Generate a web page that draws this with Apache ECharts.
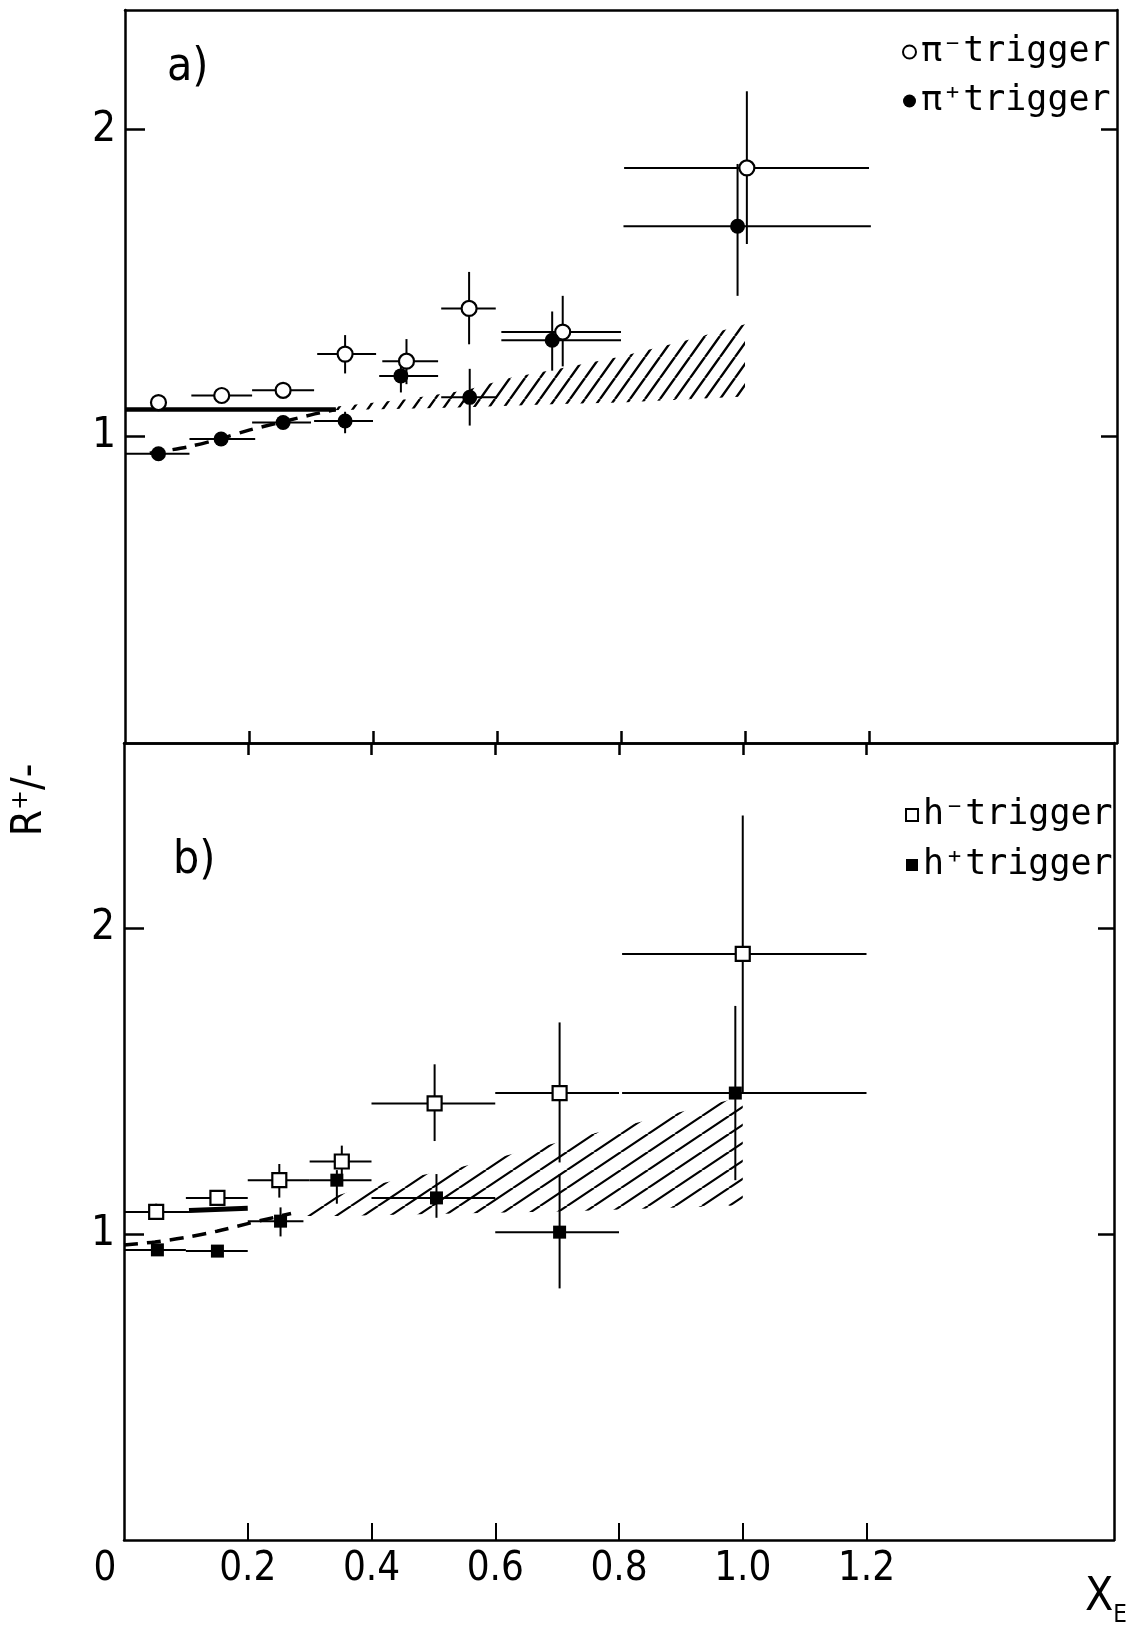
<!DOCTYPE html>
<html><head><meta charset="utf-8">
<script src="https://cdn.jsdelivr.net/npm/echarts@6/dist/echarts.min.js"></script>
<style>html,body{margin:0;padding:0;background:#fff}#c{width:1128px;height:1628px}</style>
</head><body><div id="c"></div>
<script>
// ---------- axis ticks ----------
const xTickValues = [0, 0.2, 0.4, 0.6, 0.8, 1.0, 1.2];
const xTickLabels = ['0', '0.2', '0.4', '0.6', '0.8', '1.0', '1.2'];
const yTickValues = [1, 2];
const yTickLabels = ['1', '2'];

// ---------- panel a) pion triggers ----------
const piMinusX   = [0.054, 0.156, 0.255, 0.355, 0.454, 0.555, 0.706, 1.003];
const piMinusY   = [1.110, 1.133, 1.150, 1.268, 1.245, 1.417, 1.340, 1.875];
const piMinusXLo = [0.054, 0.107, 0.205, 0.310, 0.415, 0.510, 0.607, 0.805];
const piMinusXHi = [0.054, 0.205, 0.305, 0.405, 0.505, 0.598, 0.800, 1.200];
const piMinusYLo = [1.110, 1.133, 1.130, 1.205, 1.170, 1.300, 1.228, 1.627];
const piMinusYHi = [1.110, 1.133, 1.170, 1.330, 1.317, 1.536, 1.458, 2.125];

const piPlusX    = [0.054, 0.155, 0.255, 0.355, 0.445, 0.556, 0.689, 0.988];
const piPlusY    = [0.943, 0.991, 1.045, 1.050, 1.197, 1.127, 1.313, 1.685];
const piPlusXLo  = [0.000, 0.104, 0.205, 0.305, 0.410, 0.510, 0.607, 0.804];
const piPlusXHi  = [0.104, 0.210, 0.300, 0.400, 0.505, 0.600, 0.800, 1.203];
const piPlusYLo  = [0.943, 0.991, 1.045, 1.010, 1.143, 1.035, 1.214, 1.458];
const piPlusYHi  = [0.943, 0.991, 1.045, 1.080, 1.245, 1.220, 1.407, 1.888];

const solidAX = [0.0, 0.34];
const solidAY = [1.087, 1.087];
const dashAX  = [0.04, 0.10, 0.15, 0.20, 0.25, 0.30, 0.34];
const dashAY  = [0.945, 0.965, 0.990, 1.020, 1.045, 1.070, 1.087];
const bandAX  = [0.33, 0.45, 0.55, 0.62, 0.70, 0.80, 0.90, 1.00];
const bandALo = [1.085, 1.090, 1.095, 1.100, 1.105, 1.110, 1.120, 1.130];
const bandAHi = [1.095, 1.120, 1.150, 1.190, 1.220, 1.260, 1.310, 1.365];

// ---------- panel b) hadron triggers ----------
const hMinusX   = [0.052, 0.151, 0.251, 0.352, 0.502, 0.704, 1.000];
const hMinusY   = [1.073, 1.119, 1.177, 1.238, 1.428, 1.462, 1.917];
const hMinusXLo = [0.000, 0.100, 0.200, 0.300, 0.400, 0.600, 0.805];
const hMinusXHi = [0.105, 0.200, 0.300, 0.400, 0.600, 0.800, 1.200];
const hMinusYLo = [1.050, 1.100, 1.120, 1.197, 1.305, 1.235, 1.460];
const hMinusYHi = [1.100, 1.140, 1.230, 1.290, 1.556, 1.693, 2.370];

const hPlusX    = [0.054, 0.151, 0.253, 0.344, 0.505, 0.704, 0.988];
const hPlusY    = [0.949, 0.945, 1.043, 1.177, 1.119, 1.007, 1.462];
const hPlusXLo  = [0.000, 0.100, 0.200, 0.300, 0.400, 0.600, 0.805];
const hPlusXHi  = [0.100, 0.200, 0.290, 0.400, 0.600, 0.800, 1.200];
const hPlusYLo  = [0.935, 0.930, 0.993, 1.100, 1.054, 0.823, 1.177];
const hPlusYHi  = [0.965, 0.960, 1.088, 1.210, 1.197, 1.197, 1.747];

const solidBX = [0.105, 0.20];
const solidBY = [1.078, 1.085];
const dashBX  = [0.00, 0.05, 0.10, 0.15, 0.20, 0.27];
const dashBY  = [0.965, 0.975, 0.990, 1.010, 1.035, 1.068];
const bandBX  = [0.27, 0.35, 0.40, 0.535, 0.72, 0.86, 1.00];
const bandBLo = [1.060, 1.060, 1.062, 1.068, 1.075, 1.085, 1.095];
const bandBHi = [1.070, 1.130, 1.160, 1.215, 1.310, 1.380, 1.450];

// ---------- helpers ----------
const NARROW = '"Liberation Sans Narrow", "DejaVu Sans Condensed", sans-serif';
const MONO = '"DejaVu Sans Mono", monospace';
const zip = (...arrs) => arrs[0].map((_, i) => arrs.map(a => a[i]));

function hatch(w, h, lw) {
  const c = document.createElement('canvas');
  c.width = w; c.height = h;
  const g = c.getContext('2d');
  g.strokeStyle = '#000'; g.lineWidth = lw; g.lineCap = 'butt';
  g.beginPath();
  for (const dx of [-w, 0, w]) { g.moveTo(dx, h); g.lineTo(dx + w, 0); }
  g.stroke();
  return c;
}
const patA = { image: hatch(15, 21, 2.4), repeat: 'repeat' };
const patB = { image: hatch(27, 18, 2.2), repeat: 'repeat' };

function errRender(params, api) {
  const x = api.value(0), y = api.value(1);
  const xlo = api.value(2), xhi = api.value(3), ylo = api.value(4), yhi = api.value(5);
  const ch = [];
  const st = { stroke: '#000', lineWidth: 2 };
  if (xhi > xlo) {
    const a = api.coord([xlo, y]), b = api.coord([xhi, y]);
    ch.push({ type: 'line', shape: { x1: a[0], y1: a[1], x2: b[0], y2: b[1] }, style: st });
  }
  if (yhi > ylo) {
    const a = api.coord([x, ylo]), b = api.coord([x, yhi]);
    ch.push({ type: 'line', shape: { x1: a[0], y1: a[1], x2: b[0], y2: b[1] }, style: st });
  }
  return { type: 'group', children: ch };
}
function bandRender(pattern) {
  return function (params, api) {
    if (params.dataIndexInside !== 0) return null;
    const n = params.dataInsideLength;
    const top = [], bot = [];
    for (let i = 0; i < n; i++) {
      const x = api.value(0, i);
      top.push(api.coord([x, api.value(2, i)]));
      bot.push(api.coord([x, api.value(1, i)]));
    }
    return { type: 'polygon', shape: { points: top.concat(bot.reverse()) }, style: { fill: pattern, stroke: null } };
  };
}

const xLabelFmt = v => {
  const i = xTickValues.findIndex(t => Math.abs(t - v) < 1e-9);
  const s = i >= 0 ? xTickLabels[i] : '';
  return i === 0 ? '{z|' + s + '}' : s;
};
const yLabelFmt = v => {
  const i = yTickValues.findIndex(t => Math.abs(t - v) < 1e-9);
  return i >= 0 ? yTickLabels[i] : '';
};
const axLine = { show: true, onZero: false, lineStyle: { color: '#000', width: 2.5 } };
const tickVals = xTickValues.slice(1);

function xAx(grid, pos, opts) {
  return Object.assign({
    type: 'value', gridIndex: grid, position: pos, min: 0, max: 1.6,
    axisLine: axLine, splitLine: { show: false },
    axisTick: { show: false }, axisLabel: { show: false }
  }, opts);
}
function yAx(grid, pos, max, opts) {
  return Object.assign({
    type: 'value', gridIndex: grid, position: pos, min: 0, max: max,
    axisLine: axLine, splitLine: { show: false },
    axisTick: { show: true, inside: true, length: pos === 'left' ? 20 : 16, customValues: yTickValues, lineStyle: { color: '#000', width: 2.5 } },
    axisLabel: { show: false }
  }, opts);
}

const legendText = { fontFamily: MONO, fontSize: 35, lineHeight: 42, color: '#000' };

const option = {
  backgroundColor: '#fff',
  animation: false,
  title: [
    { text: 'a)', left: 162, top: 40, textStyle: { fontFamily: NARROW, fontSize: 46, fontWeight: 'normal', color: '#000' } },
    { text: 'b)', left: 168, top: 833, textStyle: { fontFamily: NARROW, fontSize: 46, fontWeight: 'normal', color: '#000' } }
  ],
  grid: [
    { left: 125, top: 10, width: 992, height: 733 },
    { left: 124, top: 743, width: 993, height: 797 }
  ],
  xAxis: [
    xAx(0, 'bottom', { axisTick: { show: true, inside: true, length: 12, customValues: tickVals, lineStyle: { color: '#000', width: 2.5 } } }),
    xAx(0, 'top'),
    xAx(1, 'bottom', {
      axisTick: { show: true, inside: true, length: 17, customValues: tickVals, lineStyle: { color: '#000', width: 2 } },
      axisLabel: { show: true, customValues: xTickValues, formatter: xLabelFmt, margin: 10, color: '#000', fontFamily: NARROW, fontSize: 40,
        rich: { z: { fontFamily: NARROW, fontSize: 40, color: '#000', padding: [0, 38, 0, 0] } } },
      name: '{x|X}{e|E}', nameLocation: 'end', nameGap: -8,
      nameTextStyle: { align: 'center', verticalAlign: 'top', padding: [28, 0, 0, 0],
        rich: { x: { fontFamily: NARROW, fontSize: 46, lineHeight: 60, color: '#000' },
                e: { fontFamily: NARROW, fontSize: 24, lineHeight: 60, verticalAlign: 'bottom', color: '#000' } } }
    }),
    xAx(1, 'top', { axisTick: { show: true, inside: true, length: 12, customValues: tickVals, lineStyle: { color: '#000', width: 2.5 } } })
  ],
  yAxis: [
    yAx(0, 'left', 2.39, { axisLabel: { show: true, customValues: yTickValues, formatter: yLabelFmt, margin: 9, color: '#000', fontFamily: NARROW, fontSize: 42 } }),
    yAx(0, 'right', 2.39),
    yAx(1, 'left', 2.607, { axisLabel: { show: true, customValues: yTickValues, formatter: yLabelFmt, margin: 9, color: '#000', fontFamily: NARROW, fontSize: 42 } }),
    yAx(1, 'right', 2.607)
  ],
  legend: [
    { orient: 'vertical', left: 897, top: 26, itemWidth: 13, itemHeight: 13, itemGap: 7, selectedMode: false, textStyle: legendText,
      data: [
        { name: 'π⁻trigger', icon: 'circle', itemStyle: { color: '#fff', borderColor: '#000', borderWidth: 2 } },
        { name: 'π⁺trigger', icon: 'circle', itemStyle: { color: '#000', borderWidth: 0 } }
      ] },
    { orient: 'vertical', left: 900, top: 789, itemWidth: 12, itemHeight: 12, itemGap: 8, selectedMode: false, textStyle: legendText,
      data: [
        { name: 'h⁻trigger', icon: 'rect', itemStyle: { color: '#fff', borderColor: '#000', borderWidth: 2 } },
        { name: 'h⁺trigger', icon: 'rect', itemStyle: { color: '#000', borderWidth: 0 } }
      ] }
  ],
  graphic: [
    { type: 'text', x: 30, y: 800, rotation: Math.PI / 2,
      style: { text: 'R⁺/-', fontFamily: NARROW, fontSize: 42, fill: '#000', align: 'center', verticalAlign: 'middle' } }
  ],
  series: [
    // panel a
    { name: 'bandA', type: 'custom', xAxisIndex: 0, yAxisIndex: 0, z: 1, renderItem: bandRender(patA), data: zip(bandAX, bandALo, bandAHi), silent: true },
    { name: 'solidA', type: 'line', xAxisIndex: 0, yAxisIndex: 0, z: 2, showSymbol: false, lineStyle: { color: '#000', width: 4.5 }, data: zip(solidAX, solidAY), silent: true },
    { name: 'dashA', type: 'line', xAxisIndex: 0, yAxisIndex: 0, z: 2, smooth: 0.3, showSymbol: false, lineStyle: { color: '#000', width: 3.5, type: [14, 9] }, data: zip(dashAX, dashAY), silent: true },
    { name: 'errPiMinus', type: 'custom', xAxisIndex: 0, yAxisIndex: 0, z: 3, renderItem: errRender, data: zip(piMinusX, piMinusY, piMinusXLo, piMinusXHi, piMinusYLo, piMinusYHi), silent: true },
    { name: 'errPiPlus', type: 'custom', xAxisIndex: 0, yAxisIndex: 0, z: 3, renderItem: errRender, data: zip(piPlusX, piPlusY, piPlusXLo, piPlusXHi, piPlusYLo, piPlusYHi), silent: true },
    { name: 'π⁻trigger', type: 'scatter', xAxisIndex: 0, yAxisIndex: 0, z: 5, symbol: 'circle', symbolSize: 15, itemStyle: { color: '#fff', borderColor: '#000', borderWidth: 2.2, opacity: 1 }, data: zip(piMinusX, piMinusY) },
    { name: 'π⁺trigger', type: 'scatter', xAxisIndex: 0, yAxisIndex: 0, z: 5, symbol: 'circle', symbolSize: 15, itemStyle: { color: '#000', opacity: 1 }, data: zip(piPlusX, piPlusY) },
    // panel b
    { name: 'bandB', type: 'custom', xAxisIndex: 2, yAxisIndex: 2, z: 1, renderItem: bandRender(patB), data: zip(bandBX, bandBLo, bandBHi), silent: true },
    { name: 'solidB', type: 'line', xAxisIndex: 2, yAxisIndex: 2, z: 2, showSymbol: false, lineStyle: { color: '#000', width: 5 }, data: zip(solidBX, solidBY), silent: true },
    { name: 'dashB', type: 'line', xAxisIndex: 2, yAxisIndex: 2, z: 2, smooth: 0.3, showSymbol: false, lineStyle: { color: '#000', width: 3.5, type: [14, 9] }, data: zip(dashBX, dashBY), silent: true },
    { name: 'errHMinus', type: 'custom', xAxisIndex: 2, yAxisIndex: 2, z: 3, renderItem: errRender, data: zip(hMinusX, hMinusY, hMinusXLo, hMinusXHi, hMinusYLo, hMinusYHi), silent: true },
    { name: 'errHPlus', type: 'custom', xAxisIndex: 2, yAxisIndex: 2, z: 3, renderItem: errRender, data: zip(hPlusX, hPlusY, hPlusXLo, hPlusXHi, hPlusYLo, hPlusYHi), silent: true },
    { name: 'h⁻trigger', type: 'scatter', xAxisIndex: 2, yAxisIndex: 2, z: 5, symbol: 'rect', symbolSize: 14, itemStyle: { color: '#fff', borderColor: '#000', borderWidth: 2.2, opacity: 1 }, data: zip(hMinusX, hMinusY) },
    { name: 'h⁺trigger', type: 'scatter', xAxisIndex: 2, yAxisIndex: 2, z: 5, symbol: 'rect', symbolSize: 13, itemStyle: { color: '#000', opacity: 1 }, data: zip(hPlusX, hPlusY) }
  ]
};

const chart = echarts.init(document.getElementById('c'), null, { renderer: 'canvas' });
chart.setOption(option);
</script>
</body></html>
